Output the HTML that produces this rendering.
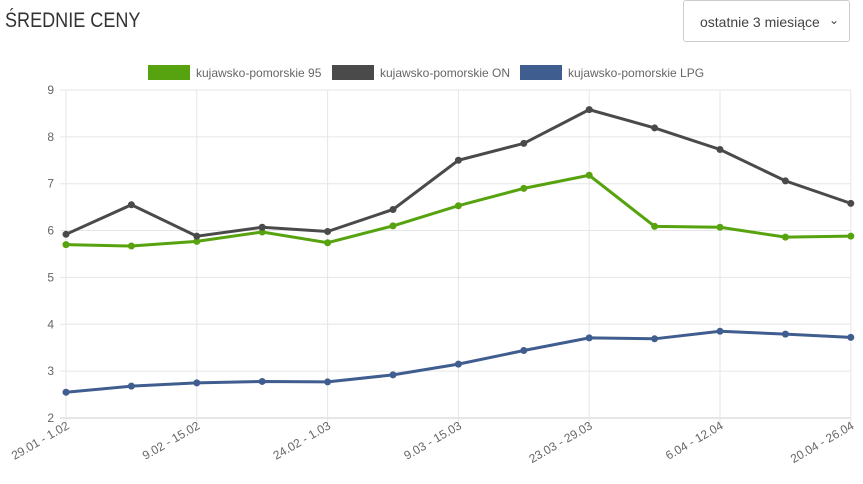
<!DOCTYPE html>
<html><head><meta charset="utf-8">
<style>
body{margin:0;width:863px;height:484px;background:#fff;font-family:"Liberation Sans",sans-serif;overflow:hidden;position:relative}
h1{position:absolute;left:5px;top:9px;margin:0;font-weight:normal;font-size:21px;color:#333;transform:scaleX(0.86);transform-origin:0 0}
.sel{position:absolute;left:683px;top:0;width:167px;height:42px;border:1px solid #ccc;border-radius:3px;box-sizing:border-box;font-size:14px;color:#444;line-height:42px;padding-left:16px}
.sel span{position:absolute;right:10px;top:-2px;font-size:12px}
</style></head><body>
<h1>ŚREDNIE CENY</h1>
<div class="sel">ostatnie 3 miesiące<span>&#8964;</span></div>
<svg id="c" width="863" height="484" style="position:absolute;left:0;top:0" font-family="Liberation Sans, sans-serif"></svg>
<script>
var s=document.getElementById('c'),h='';
function X(i){return 66+65.4*i}
function Y(v){return 418-(v-2)*46.86}
for(var v=2;v<=9;v++){h+='<line x1="60" x2="851" y1="'+Y(v)+'" y2="'+Y(v)+'" stroke="'+(v==2?'#ccc':'#e6e6e6')+'"/>';
h+='<text x="54" y="'+(Y(v)+4)+'" font-size="12" fill="#666" text-anchor="end">'+v+'</text>';}
var labs=['29.01 - 1.02','9.02 - 15.02','24.02 - 1.03','9.03 - 15.03','23.03 - 29.03','6.04 - 12.04','20.04 - 26.04'];
for(var k=0;k<7;k++){var x=X(2*k);h+='<line x1="'+x+'" x2="'+x+'" y1="90" y2="424" stroke="#e6e6e6"/>';
h+='<text transform="translate('+(x+4)+',428) rotate(-30)" font-size="12" fill="#666" text-anchor="end">'+labs[k]+'</text>';}
var d=[['#57a30f',[5.70,5.67,5.77,5.97,5.74,6.10,6.53,6.90,7.18,6.09,6.07,5.86,5.88]],
['#4a4a4a',[5.92,6.55,5.88,6.07,5.98,6.45,7.50,7.86,8.58,8.19,7.73,7.06,6.58]],
['#405d8f',[2.55,2.68,2.75,2.78,2.77,2.92,3.15,3.44,3.71,3.69,3.85,3.79,3.72]]];
d.forEach(function(sr){var p=sr[1].map(function(v,i){return X(i)+','+Y(v)}).join(' ');
h+='<polyline points="'+p+'" fill="none" stroke="'+sr[0]+'" stroke-width="3"/>';
sr[1].forEach(function(v,i){h+='<circle cx="'+X(i)+'" cy="'+Y(v)+'" r="3.5" fill="'+sr[0]+'"/>'});});
var lg=[[148,'kujawsko-pomorskie 95','#57a30f'],[332,'kujawsko-pomorskie ON','#4a4a4a'],[520,'kujawsko-pomorskie LPG','#405d8f']];
lg.forEach(function(l){h+='<rect x="'+l[0]+'" y="65" width="42" height="15" fill="'+l[2]+'"/><text x="'+(l[0]+48)+'" y="77" font-size="12" fill="#666">'+l[1]+'</text>'});
s.innerHTML=h;
</script>
</body></html>
